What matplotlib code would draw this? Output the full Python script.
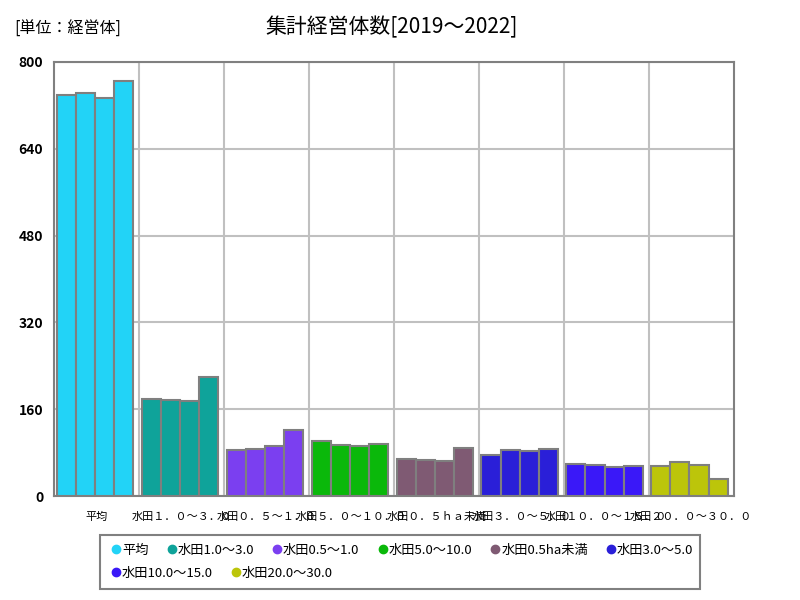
import numpy as np
import matplotlib.pyplot as plt
from matplotlib.lines import Line2D
from matplotlib.patches import Rectangle

plt.rcParams['font.family'] = ['Noto Sans CJK JP', 'DejaVu Sans']

categories = ["平均", "水田1.0～3.0", "水田0.5～1.0", "水田5.0～10.0",
              "水田0.5ha未満", "水田3.0～5.0", "水田10.0～15.0", "水田20.0～30.0"]
tick_labels = ["平均", "水田１．０～３．０", "水田０．５～１．０", "水田５．０～１０．０",
               "水田０．５ｈａ未満", "水田３．０～５．０", "水田１０．０～１５．０",
               "水田２０．０～３０．０"]
years = [2019, 2020, 2021, 2022]
values = [
    [738, 742, 734, 764],
    [179, 177, 176, 220],
    [85, 87, 92, 122],
    [102, 94, 93, 96],
    [69, 67, 65, 89],
    [76, 85, 83, 87],
    [60, 57, 53, 55],
    [56, 63, 58, 31],
]
colors = ["#22d3f7", "#0fa39a", "#7b3ff0", "#0ab80a",
          "#7f5a73", "#2a1fd8", "#3a18f8", "#bcc50a"]

fig = plt.figure(figsize=(8, 6), dpi=100)
ax = fig.add_axes([0.068, 0.173, 0.849, 0.724])

bw = 0.225
x = np.arange(len(categories))
for i, (vals, c) in enumerate(zip(values, colors)):
    for j, v in enumerate(vals):
        ax.bar(i - 1.5 * bw + j * bw - 0.02, v, width=bw, color=c,
               edgecolor="#7f7f7f", linewidth=1.5, zorder=3)

ax.set_xlim(-0.5, len(categories) - 0.5)
ax.set_ylim(0, 800)
ax.set_yticks([0, 160, 320, 480, 640, 800])
ax.set_xticks(x)
ax.set_xticklabels(tick_labels)
ax.tick_params(axis="both", length=0, labelsize=10, pad=8)
ax.tick_params(axis="x", labelsize=8, pad=11)
for lab in ax.get_yticklabels():
    lab.set_fontweight("bold")
ax.set_xticks(np.arange(0.5, len(categories) - 0.5, 1), minor=True)
ax.tick_params(axis="x", which="minor", length=0)
ax.grid(axis="y", color="#c0c0c0", linewidth=1.5, zorder=0)
ax.grid(axis="x", which="minor", color="#c0c0c0", linewidth=1.5, zorder=0)
ax.grid(axis="x", which="major", visible=False)
for s in ax.spines.values():
    s.set_color("#808080")
    s.set_linewidth(1.5)

fig.text(0.49, 0.955, "集計経営体数[2019～2022]", ha="center", va="center", fontsize=15)
fig.text(0.018, 0.952, "[単位：経営体]", ha="left", va="center", fontsize=11.5)

# legend box drawn by hand, two rows that flow left to right
fig.patches.append(Rectangle((0.125, 0.018), 0.75, 0.09, transform=fig.transFigure,
                             fill=False, edgecolor="#808080", linewidth=1.5))


def legend_row(idx, y):
    hs = [Line2D([], [], marker="o", linestyle="", markersize=6,
                 markerfacecolor=colors[k], markeredgecolor=colors[k]) for k in idx]
    fig.legend(hs, [categories[k] for k in idx], loc="center left", ncol=len(idx),
               bbox_to_anchor=(0.127, y), fontsize=9.5, frameon=False,
               handletextpad=0.05, columnspacing=1.35, handlelength=0.8,
               borderpad=0.2)


legend_row([0, 1, 2, 3, 4, 5], 0.083)
legend_row([6, 7], 0.045)

plt.savefig("out.png", dpi=100)
